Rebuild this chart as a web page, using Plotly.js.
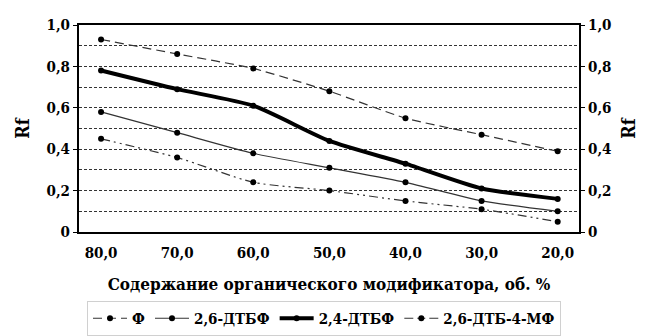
<!DOCTYPE html>
<html><head><meta charset="utf-8">
<script src="https://cdn.plot.ly/plotly-3.0.1.min.js"></script>
<style>body{margin:0;background:#fff}#c{width:648px;height:336px}</style>
</head><body><div id="c"></div>
<script>
const categories = ["80,0","70,0","60,0","50,0","40,0","30,0","20,0"];
const seriesNames = ["Ф","2,6-ДТБФ","2,4-ДТБФ","2,6-ДТБ-4-МФ"];
const phenol = [0.93,0.86,0.79,0.68,0.55,0.47,0.39];
const dtbf26 = [0.58,0.48,0.38,0.31,0.24,0.15,0.10];
const dtbf24 = [0.78,0.69,0.61,0.44,0.33,0.21,0.16];
const dtb4mf = [0.45,0.36,0.24,0.20,0.15,0.11,0.05];
const yTickVals = [0,0.2,0.4,0.6,0.8,1.0];
const yTickText = ["0","0,2","0,4","0,6","0,8","1,0"];

const F = "DejaVu Serif Condensed";
const xs = categories.map((_,i)=>i);
function tr(name, y, width, dash, color){
  return {x: xs, y: y, name: name, type:'scatter', mode:'lines+markers',
    line:{color:color, width:width, dash:dash, shape:'spline', smoothing:0.6},
    marker:{color:'#000', size:6}, xaxis:'x', yaxis:'y'};
}
const data = [
  tr(seriesNames[0], phenol, 1.2, '9px,5px', '#333'),
  tr(seriesNames[1], dtbf26, 1.2, 'solid', '#333'),
  tr(seriesNames[2], dtbf24, 4, 'solid', '#000'),
  tr(seriesNames[3], dtb4mf, 1.2, '9px,4px,2px,4px,2px,4px', '#333'),
  {x:xs, y:phenol, yaxis:'y2', xaxis:'x2', mode:'lines', line:{width:0}, opacity:0, showlegend:false, hoverinfo:'skip', type:'scatter'}
];
const layout = {
  width:648, height:336,
  margin:{l:79, r:69, t:25, b:104, autoexpand:false},
  paper_bgcolor:'#fff', plot_bgcolor:'#fff',
  font:{family:F, color:'#000'},
  showlegend:true,
  legend:{orientation:'h', x:0.5, xanchor:'center', xref:'container', y:-0.06, yanchor:'bottom', yref:'container',
    font:{family:F, size:15, color:'#000', weight:'bold'},
    bordercolor:'#d0d0d0', borderwidth:1, bgcolor:'#fff', itemwidth:34, tracegroupgap:0},
  xaxis:{
    range:[-0.29, 6.28], tickvals:xs, ticktext:categories,
    tickfont:{family:F, size:15, weight:'bold'},
    showgrid:false, zeroline:false, showline:true, linecolor:'#000', linewidth:2,
    mirror:true, ticks:'', ticklen:0, ticklabelstandoff:6,
    title:{text:'Содержание органического модификатора, об. %', font:{family:F, size:17, weight:'bold'}, standoff:17}
  },
  xaxis2:{
    range:[-0.29, 6.28], overlaying:'x', side:'top', anchor:'y2',
    showticklabels:false, ticks:'', showgrid:false, zeroline:false,
    showline:true, linecolor:'#000', linewidth:2
  },
  yaxis:{
    range:[0,1], tickvals:yTickVals, ticktext:yTickText,
    tickfont:{family:F, size:15, weight:'bold'},
    showgrid:true, gridcolor:'#333', griddash:'3px,2px', gridwidth:1,
    minor:{dtick:0.1, tick0:0, showgrid:true, gridcolor:'#333', griddash:'3px,2px', gridwidth:1},
    zeroline:false, showline:true, linecolor:'#000', linewidth:2,
    ticks:'outside', ticklen:4, tickcolor:'#000',
    title:{text:'Rf', font:{family:F, size:18, weight:'bold'}, standoff:12}
  },
  yaxis2:{
    range:[0,1], tickvals:yTickVals, ticktext:yTickText, overlaying:'y', side:'right', anchor:'x2',
    tickfont:{family:F, size:15, weight:'bold'},
    showgrid:false, zeroline:false, showline:true, linecolor:'#000', linewidth:2,
    ticks:'outside', ticklen:4, tickcolor:'#000',
    title:{text:'Rf', font:{family:F, size:18, weight:'bold'}, standoff:12}
  }
};
Plotly.newPlot('c', data, layout, {staticPlot:true, displayModeBar:false});
</script></body></html>
